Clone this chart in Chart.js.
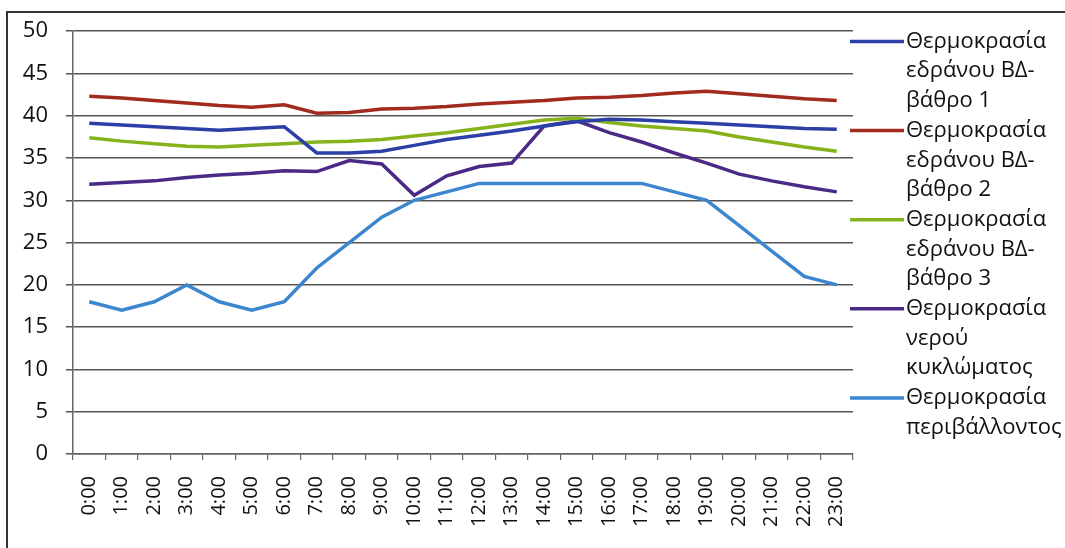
<!DOCTYPE html>
<html>
<head>
  <title>Θερμοκρασίες</title>
  <script src="https://cdn.jsdelivr.net/npm/chart.js"></script>
  <style>
    html, body { margin: 0; padding: 0; background: #fff; }
    #wrap { position: relative; width: 1065px; height: 548px; }
  </style>
</head>
<body>
  <div id="wrap"><canvas id="myChart" width="1065" height="548"></canvas></div>
  <script>
    const hours = ['0:00','1:00','2:00','3:00','4:00','5:00','6:00','7:00','8:00','9:00','10:00','11:00',
                   '12:00','13:00','14:00','15:00','16:00','17:00','18:00','19:00','20:00','21:00','22:00','23:00'];

    const bearing1 = [39.1,38.9,38.7,38.5,38.3,38.5,38.7,35.6,35.6,35.8,36.5,37.2,37.7,38.2,38.8,39.3,39.6,39.5,39.3,39.1,38.9,38.7,38.5,38.4];
    const bearing2 = [42.3,42.1,41.8,41.5,41.2,41.0,41.3,40.3,40.4,40.8,40.9,41.1,41.4,41.6,41.8,42.1,42.2,42.4,42.7,42.9,42.6,42.3,42.0,41.8];
    const bearing3 = [37.4,37.0,36.7,36.4,36.3,36.5,36.7,36.9,37.0,37.2,37.6,38.0,38.5,39.0,39.5,39.7,39.2,38.8,38.5,38.2,37.5,36.9,36.3,35.8];
    const water    = [31.9,32.1,32.3,32.7,33.0,33.2,33.5,33.4,34.7,34.3,30.6,32.9,34.0,34.4,38.8,39.4,38.0,36.9,35.6,34.4,33.1,32.3,31.6,31.0];
    const ambient  = [18,17,18,20,18,17,18,22,25,28,30,31,32,32,32,32,32,32,31,30,27,24,21,20];

    const yTicks = [0,5,10,15,20,25,30,35,40,45,50];

    const labels = [
      ['Θερμοκρασία','εδράνου ΒΔ-','βάθρο 1'],
      ['Θερμοκρασία','εδράνου ΒΔ-','βάθρο 2'],
      ['Θερμοκρασία','εδράνου ΒΔ-','βάθρο 3'],
      ['Θερμοκρασία','νερού','κυκλώματος'],
      ['Θερμοκρασία','περιβάλλοντος']
    ];
    const colors = ['#2B3FA6','#A02B1E','#86B31C','#4A2A86','#3C86CF'];
    const series = [bearing1, bearing2, bearing3, water, ambient];

    const FONT = '"Open Sans", "Noto Sans", sans-serif';

    function makeSet(i) {
      return {
        label: labels[i].join(' '),
        lines: labels[i],
        data: series[i],
        borderColor: colors[i],
        backgroundColor: colors[i],
        borderWidth: 3.5,
        tension: 0,
        pointRadius: 0
      };
    }

    // frame + multi-line legend on the right
    const extras = {
      id: 'extras',
      afterDraw(chart) {
        const c = chart.ctx;
        c.save();
        c.strokeStyle = '#333';
        c.lineWidth = 2;
        c.beginPath();
        c.moveTo(7, 548);
        c.lineTo(7, 12);
        c.lineTo(1065, 12);
        c.stroke();

        c.font = '22px ' + FONT;
        c.textBaseline = 'middle';
        c.fillStyle = '#111';
        let y = 41.5;
        chart.data.datasets.forEach((ds) => {
          c.strokeStyle = ds.borderColor;
          c.lineWidth = 3.5;
          c.beginPath();
          c.moveTo(850, y);
          c.lineTo(904, y);
          c.stroke();
          ds.lines.forEach((t) => {
            c.fillText(t, 906, y);
            y += 29.7;
          });
        });
        c.restore();
      }
    };

    const ctx = document.getElementById('myChart').getContext('2d');
    new Chart(ctx, {
      type: 'line',
      data: {
        labels: hours,
        datasets: [0,1,2,3,4].map(makeSet)
      },
      options: {
        responsive: false,
        animation: false,
        layout: { padding: { left: 0, top: 28, right: 212, bottom: 0 } },
        plugins: { legend: { display: false }, tooltip: { enabled: false } },
        scales: {
          x: {
            offset: true,
            afterFit: (s) => { s.height = 94; },
            grid: { offset: true, drawOnChartArea: false, drawTicks: true, tickLength: 6, color: '#666', lineWidth: 1.2 },
            border: { color: '#666', width: 1.5 },
            ticks: { minRotation: 90, maxRotation: 90, autoSkip: false, color: '#111', padding: 16,
                     font: { family: FONT, size: 20 } }
          },
          y: {
            min: 0,
            max: 50,
            afterFit: (s) => { s.width = 73; },
            afterBuildTicks: (s) => { s.ticks = yTicks.map(v => ({ value: v })); },
            grid: { color: '#555', lineWidth: 1.5, tickLength: 7 },
            border: { color: '#666', width: 1.5 },
            ticks: { color: '#111', padding: 18, font: { family: FONT, size: 22 } }
          }
        }
      },
      plugins: [extras]
    });
  </script>
</body>
</html>
